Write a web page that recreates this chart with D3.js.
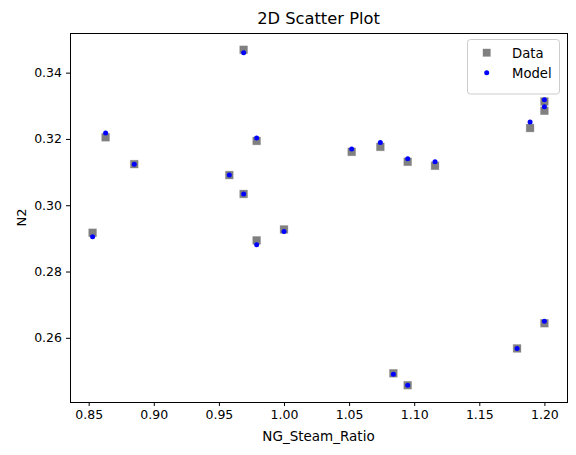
<!DOCTYPE html>
<html><head><meta charset="utf-8">
<script src="https://cdn.jsdelivr.net/npm/d3@7"></script>
<style>body{margin:0;background:#fff}svg{display:block}text{font-family:"DejaVu Sans",sans-serif;fill:#000}</style>
</head><body>
<script>
const xValues = [0.853,0.863,0.885,0.958,0.969,0.969,0.979,0.979,1.000,1.052,1.074,1.095,1.116,1.084,1.095,1.179,1.189,1.200,1.200,1.200];
const dataValues = [0.2917,0.3205,0.3124,0.3091,0.3469,0.3034,0.3194,0.2894,0.2927,0.3161,0.3176,0.3131,0.3119,0.2493,0.2457,0.2568,0.3233,0.3313,0.3285,0.2644];
const modelValues = [0.2905,0.3218,0.3124,0.3091,0.3460,0.3034,0.3203,0.2881,0.2921,0.3170,0.3189,0.3140,0.3131,0.2490,0.2457,0.2568,0.3251,0.3318,0.3297,0.2650];
const xTicks = [0.85,0.90,0.95,1.00,1.05,1.10,1.15,1.20];
const yTicks = [0.26,0.28,0.30,0.32,0.34];
const seriesNames = ["Data","Model"];

const W=576,H=455, L=70,R=567,T=33,B=402;
const SQ=7.8, HS=SQ/2;
const svg=d3.select("body").append("svg").attr("width",W).attr("height",H);

function padded(vals){const [a,b]=d3.extent(vals);const m=(b-a)*0.05;return [a-m,b+m];}
const x=d3.scaleLinear().domain(padded(xValues)).range([L,R]);
const y=d3.scaleLinear().domain(padded(dataValues.concat(modelValues))).range([B,T]);

const xa=svg.append("g").attr("transform",`translate(0,${B})`)
  .call(d3.axisBottom(x).tickValues(xTicks).tickFormat(d3.format(".2f")).tickSize(4).tickPadding(4));
const ya=svg.append("g").attr("transform",`translate(${L},0)`)
  .call(d3.axisLeft(y).tickValues(yTicks).tickFormat(d3.format(".2f")).tickSize(4).tickPadding(4));
[xa,ya].forEach(a=>{a.select(".domain").remove();a.selectAll("text").style("font-size","12.5px").style("font-family","DejaVu Sans").attr("fill","#000");a.selectAll("line").attr("stroke","#000");});

// points
svg.append("g").selectAll("rect").data(xValues).join("rect")
  .attr("x",(d)=>x(d)-HS).attr("y",(d,i)=>y(dataValues[i])-HS)
  .attr("width",SQ).attr("height",SQ).attr("fill","#808080")
  .attr("stroke","#808080").attr("stroke-opacity",0.35).attr("stroke-width",0.8);
svg.append("g").selectAll("circle").data(xValues).join("circle")
  .attr("cx",(d)=>x(d)).attr("cy",(d,i)=>y(modelValues[i])).attr("r",2.5).attr("fill","#0000ff");

// frame
svg.append("rect").attr("x",L).attr("y",T).attr("width",R-L).attr("height",B-T)
  .attr("fill","none").attr("stroke","#000").attr("stroke-width",1).attr("shape-rendering","crispEdges");

// labels
svg.append("text").attr("x",(L+R)/2).attr("y",24).attr("text-anchor","middle").style("font-size","16.3px").text("2D Scatter Plot");
svg.append("text").attr("x",(L+R)/2).attr("y",441).attr("text-anchor","middle").style("font-size","13.5px").text("NG_Steam_Ratio");
svg.append("text").attr("transform",`translate(26,${(T+B)/2}) rotate(-90)`).attr("text-anchor","middle").style("font-size","13px").text("N2");

// legend
const lg=svg.append("g");
lg.append("rect").attr("x",467.5).attr("y",39.5).attr("width",92).attr("height",54.5).attr("rx",3)
  .attr("fill","#fff").attr("fill-opacity",0.8).attr("stroke","#cccccc");
lg.append("rect").attr("x",486.7-HS).attr("y",52.7-HS).attr("width",SQ).attr("height",SQ).attr("fill","#808080");
lg.append("circle").attr("cx",486.7).attr("cy",72.7).attr("r",2.5).attr("fill","#0000ff");
lg.selectAll("text.l").data(seriesNames).join("text").attr("class","l")
  .attr("x",512).attr("y",(d,i)=>57.5+i*20).style("font-size","13.2px").text(d=>d);
</script>
</body></html>
